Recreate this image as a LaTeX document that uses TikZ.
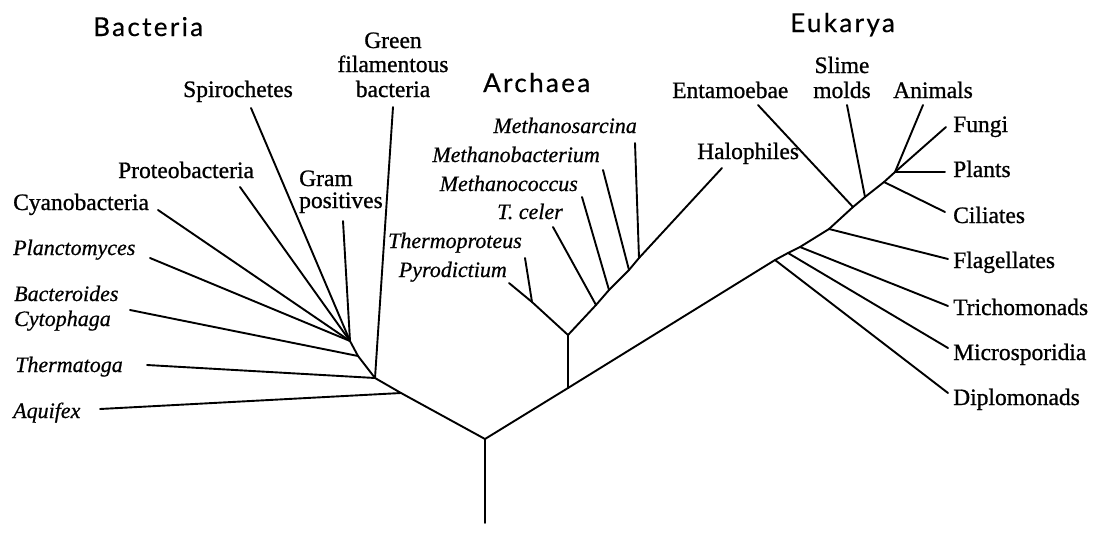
\documentclass[tikz,border=0pt]{standalone}
\usepackage{fontspec}
\setmainfont{Liberation Serif}
\newfontfamily\labfont[FakeBold=0.9]{Liberation Serif}
\newfontfamily\ilabfont[FakeBold=0.6,UprightFont=*,ItalicFont=* Italic]{Liberation Serif}
\newfontfamily\titlefont[LetterSpace=9,FakeBold=0.5]{Lato}
\begin{document}
\begin{tikzpicture}[x=1pt,y=-1pt,
  br/.style={line width=1.9pt, line cap=round, line join=round},
  lab/.style={inner sep=0pt, font=\fontsize{23.5}{24}\selectfont\labfont},
  ilab/.style={inner sep=0pt, font=\fontsize{22}{24}\selectfont\ilabfont\itshape},
  ttl/.style={inner sep=0pt, font=\fontsize{26}{28}\selectfont\titlefont}]
\useasboundingbox (0,0) rectangle (1094,546);

% ---------- junctions ----------
\coordinate (r0) at (485,523);
\coordinate (r)  at (485,439);
\coordinate (b1) at (401,393);
\coordinate (b2) at (375,378);
\coordinate (b3) at (358,356);
\coordinate (b4) at (350,341);
\coordinate (a0) at (568,388);
\coordinate (a1) at (568,335);
\coordinate (a2) at (532,302);
\coordinate (a3) at (596,305);
\coordinate (a4) at (609,290);
\coordinate (a5) at (629,270);
\coordinate (a6) at (639,258);
\coordinate (e1) at (775,260);
\coordinate (e2) at (788,253);
\coordinate (e3) at (800,247);
\coordinate (e4) at (829,229);
\coordinate (e5) at (853,207);
\coordinate (e6) at (865,197);
\coordinate (e7) at (884,182);
\coordinate (e8) at (895,172);

% ---------- tips ----------
\coordinate (tAqu)   at (100,409);
\coordinate (tThe)   at (147,365);
\coordinate (tGre)   at (393,107);
\coordinate (tBac)   at (130,310);
\coordinate (tPla)   at (150,258);
\coordinate (tCya)   at (158,210);
\coordinate (tPro)   at (240,187);
\coordinate (tSpi)   at (251,108);
\coordinate (tGra)   at (343,221);
\coordinate (tPyr)   at (509,283);
\coordinate (tThp)   at (525,258);
\coordinate (tTce)   at (553,227);
\coordinate (tMco)   at (582,197);
\coordinate (tMba)   at (603,170);
\coordinate (tMsa)   at (635,143);
\coordinate (tHal)   at (722,168);
\coordinate (tDip)   at (948,393);
\coordinate (tMic)   at (948,348);
\coordinate (tTri)   at (948,306);
\coordinate (tFla)   at (948,259);
\coordinate (tEnt)   at (758,105);
\coordinate (tSli)   at (847,105);
\coordinate (tCil)   at (945,212);
\coordinate (tPlt)   at (945,172);
\coordinate (tFun)   at (946,127);
\coordinate (tAni)   at (923,105);

% ---------- titles ----------
\node[ttl, anchor=base west] (tBacteria) at (93,36) {Bacteria};
\node[ttl, anchor=base west] (tArchaea) at (483,92) {Archaea};
\node[ttl, anchor=base west] (tEukarya) at (790,32) {Eukarya};

% ---------- bacteria labels ----------
\node[lab, anchor=base] (lGre1) at (393,48) {Green};
\node[lab, anchor=base] (lGre2) at (393,72) {filamentous};
\node[lab, anchor=base] (lGre3) at (393,97) {bacteria};
\node[lab, anchor=base west] (lSpi) at (183,97) {Spirochetes};
\node[lab, anchor=base west] (lPro) at (118,178) {Proteobacteria};
\node[lab, anchor=base west] (lGra1) at (299,186) {Gram};
\node[lab, anchor=base west] (lGra2) at (299,208) {positives};
\node[lab, anchor=base west] (lCya) at (13,210) {Cyanobacteria};
\node[ilab, anchor=base west] (lPla) at (13,255) {Planctomyces};
\node[ilab, anchor=base west] (lBac1) at (14,301) {Bacteroides};
\node[ilab, anchor=base west] (lBac2) at (14,326) {Cytophaga};
\node[ilab, anchor=base west] (lThe) at (15,372) {Thermatoga};
\node[ilab, anchor=base west] (lAqu) at (13,418) {Aquifex};

% ---------- archaea labels ----------
\node[ilab, anchor=base east] (lMsa) at (637,133) {Methanosarcina};
\node[ilab, anchor=base east] (lMba) at (600,162) {Methanobacterium};
\node[ilab, anchor=base east] (lMco) at (578,191) {Methanococcus};
\node[ilab, anchor=base east] (lTce) at (563,219) {T. celer};
\node[ilab, anchor=base east] (lThp) at (522,248) {Thermoproteus};
\node[ilab, anchor=base east] (lPyr) at (507,277) {Pyrodictium};
\node[lab, anchor=base west] (lHal) at (697,159) {Halophiles};

% ---------- eukarya labels ----------
\node[lab, anchor=base west] (lEnt) at (672,98) {Entamoebae};
\node[lab, anchor=base] (lSli1) at (842,73) {Slime};
\node[lab, anchor=base] (lSli2) at (842,98) {molds};
\node[lab, anchor=base west] (lAni) at (893,98) {Animals};
\node[lab, anchor=base west] (lFun) at (953,132) {Fungi};
\node[lab, anchor=base west] (lPlt) at (953,177) {Plants};
\node[lab, anchor=base west] (lCil) at (953,223) {Ciliates};
\node[lab, anchor=base west] (lFla) at (953,268) {Flagellates};
\node[lab, anchor=base west] (lTri) at (953,315) {Trichomonads};
\node[lab, anchor=base west] (lMic) at (953,360) {Microsporidia};
\node[lab, anchor=base west] (lDip) at (953,405) {Diplomonads};

% ---------- branches ----------
\draw[br] (r0) -- (r);
% Bacteria
\draw[br] (r) -- (b1) -- (b2) -- (b3) -- (b4);
\draw[br] (b1) -- (tAqu);
\draw[br] (b2) -- (tThe);
\draw[br] (b2) -- (tGre);
\draw[br] (b3) -- (tBac);
\draw[br] (b4) -- (tPla);
\draw[br] (b4) -- (tCya);
\draw[br] (b4) -- (tPro);
\draw[br] (b4) -- (tSpi);
\draw[br] (b4) -- (tGra);
% Archaea
\draw[br] (r) -- (a0) -- (a1);
\draw[br] (a1) -- (a2) -- (tPyr);
\draw[br] (a2) -- (tThp);
\draw[br] (a1) -- (a3) -- (a4) -- (a5) -- (a6) -- (tHal);
\draw[br] (a3) -- (tTce);
\draw[br] (a4) -- (tMco);
\draw[br] (a5) -- (tMba);
\draw[br] (a6) -- (tMsa);
% Eukarya
\draw[br] (a0) -- (e1) -- (e2) -- (e3) -- (e4) -- (e5) -- (e6) -- (e7) -- (e8);
\draw[br] (e1) -- (tDip);
\draw[br] (e2) -- (tMic);
\draw[br] (e3) -- (tTri);
\draw[br] (e4) -- (tFla);
\draw[br] (e5) -- (tEnt);
\draw[br] (e6) -- (tSli);
\draw[br] (e7) -- (tCil);
\draw[br] (e8) -- (tPlt);
\draw[br] (e8) -- (tFun);
\draw[br] (e8) -- (tAni);
\end{tikzpicture}
\end{document}
